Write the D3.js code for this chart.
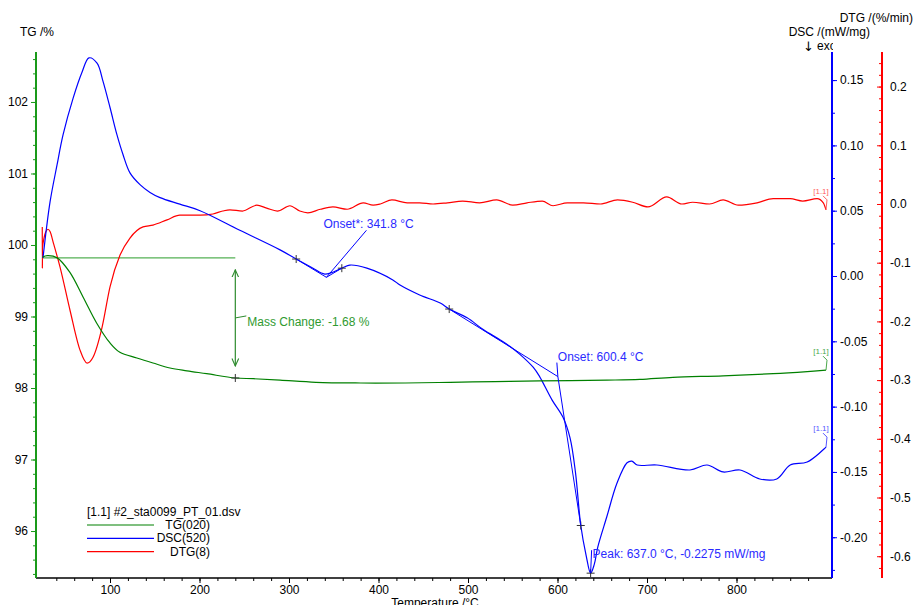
<!DOCTYPE html>
<html>
<head>
<meta charset="utf-8">
<script src="https://cdn.jsdelivr.net/npm/d3@7"></script>
<style>
  body { margin: 0; background: #fff; }
  svg { font-family: 'Liberation Sans', Arial, sans-serif; }
</style>
</head>
<body>
<svg id="chart" width="917" height="605"></svg>
<script>
// temperature (°C), TG (%)
const tgData = [
  [24.5, 99.83], [30, 99.85], [41, 99.82], [55, 99.62], [70, 99.27], [85, 98.91],
  [100, 98.63], [111, 98.5], [130, 98.42], [148, 98.35], [167, 98.28], [186, 98.24],
  [208, 98.2], [240, 98.14], [260, 98.13], [290, 98.11], [330, 98.08], [380, 98.07],
  [430, 98.07], [480, 98.08], [530, 98.09], [580, 98.1], [655, 98.11], [692, 98.12],
  [729, 98.15], [785, 98.17], [841, 98.2], [879, 98.23], [900, 98.25],
];

// temperature (°C), DSC (mW/mg)
const dscData = [
  [25.1, 0.0138], [33, 0.0567], [40.8, 0.085], [47.5, 0.108], [58.7, 0.136], [68.7, 0.156],
  [76.5, 0.167], [85.5, 0.163], [92.2, 0.149], [100, 0.129], [107.8, 0.108], [114.5, 0.093],
  [122.3, 0.079], [133.5, 0.07], [144.7, 0.064], [155.9, 0.06], [178, 0.055], [200.6, 0.05],
  [245, 0.035], [290, 0.02], [308, 0.013], [326.8, 0.006], [340, 0.0015], [359, 0.006],
  [368, 0.0084], [387, 0.006], [416, -0.003], [424, -0.0069], [446, -0.0145], [469, -0.0207],
  [479, -0.0253], [499, -0.032], [517, -0.041], [536, -0.049], [547, -0.054], [558, -0.06],
  [573, -0.07], [580, -0.077], [594, -0.095], [606, -0.108], [614, -0.124], [620, -0.15],
  [626, -0.191], [632, -0.214], [637, -0.2275], [641, -0.221], [645, -0.2075], [655, -0.1845],
  [666.5, -0.1585], [677.7, -0.143], [683, -0.1417], [689, -0.1447], [711, -0.1447],
  [748, -0.1485], [767, -0.1447], [785, -0.15], [804, -0.1485], [826, -0.1554],
  [845, -0.1554], [860, -0.1447], [879, -0.1424], [900, -0.131],
];

// temperature (°C), DTG (%/min)
const dtgData = [
  [24.3, -0.039], [24.4, -0.109], [24.6, -0.075], [26, -0.06], [28, -0.048], [30.7, -0.043],
  [33, -0.047], [37, -0.068], [44.1, -0.107], [55.3, -0.181], [66.5, -0.249], [74.3, -0.271],
  [81, -0.261], [91.1, -0.21], [100, -0.141], [111.2, -0.087], [122.3, -0.058], [136.9, -0.039],
  [148, -0.036], [163.7, -0.027], [178, -0.019], [201, -0.019], [215, -0.017], [226, -0.012],
  [234, -0.01], [248, -0.012], [264, -0.002], [275, -0.007], [287, -0.012], [301, -0.003],
  [312, -0.012], [321, -0.015], [335, -0.009], [349, -0.005], [365, -0.009], [383, 0.002],
  [394, -0.002], [402, 0], [415, 0.007], [432, 0.002], [446, 0.002], [461, 0], [477, 0.002],
  [494, 0.005], [513, 0.002], [532, 0.007], [550, -0.002], [566, 0.002], [583, 0.005],
  [595, -0.003], [611, 0.002], [629, 0.002], [648, 0], [667, 0.007], [684, 0.003],
  [701, -0.005], [722, 0.012], [739, 0], [751, 0.003], [770, 0], [785, 0.007], [802, -0.002],
  [823, 0.002], [841, 0.009], [860, 0.009], [874, 0.005], [890, 0.009], [897, 0.002], [900, -0.01],
];

const xTicks = [100, 200, 300, 400, 500, 600, 700, 800];
const tgTicks = [96, 97, 98, 99, 100, 101, 102];
const dscTicks = [-0.2, -0.15, -0.1, -0.05, 0, 0.05, 0.1, 0.15];
const dtgTicks = [-0.6, -0.5, -0.4, -0.3, -0.2, -0.1, 0, 0.1, 0.2];

// evaluation results
const massStart = [24.5, 99.82];
const massEnd = [240, 98.14];
const massLabel = 'Mass Change: -1.68 %';
const dscMarks = [[308, 0.013], [359, 0.006], [479, -0.0253], [626, -0.191], [637, -0.2275]];
const onsetStar = [341.8, -0.001];
const onset = [600.4, -0.077];
const peak = [637.0, -0.2275];

const legendItems = [
  { name: 'TG(020)', color: '#008000' },
  { name: 'DSC(520)', color: '#0000ff' },
  { name: 'DTG(8)', color: '#ff0000' },
];

const SVG = d3.select('#chart');

const X = d3.scaleLinear().domain([17.3, 906.7]).range([36, 832]);
const Y_TG = d3.scaleLinear().domain([95.343, 102.699]).range([578, 52]);
const Y_DSC = d3.scaleLinear().domain([-0.2312, 0.1715]).range([578, 52]);
const Y_DTG = d3.scaleLinear().domain([-0.6371, 0.2589]).range([578, 52]);

const styleAxis = (g, color) => {
  g.select('.domain').remove();
  g.selectAll('line').attr('stroke', color);
  g.selectAll('text').attr('fill', '#000').style('font-size', '12px');
};

// x axis
SVG.append('g')
  .attr('transform', 'translate(0,578)')
  .call(d3.axisBottom(X).tickValues(d3.range(40, 900, 20)).tickSize(3).tickFormat(''))
  .call((g) => styleAxis(g, '#000'));
SVG.append('g')
  .attr('transform', 'translate(0,578)')
  .call(d3.axisBottom(X).tickValues(xTicks).tickSize(5).tickPadding(2))
  .call((g) => styleAxis(g, '#000'));
SVG.append('line')
  .attr('x1', 36).attr('x2', 832).attr('y1', 578).attr('y2', 578)
  .attr('stroke', '#000').attr('stroke-width', 1.5);

// TG axis
SVG.append('g')
  .attr('transform', 'translate(36,0)')
  .call(d3.axisLeft(Y_TG).tickValues(d3.range(95.4, 102.7, 0.2)).tickSize(3).tickFormat(''))
  .call((g) => styleAxis(g, '#1a9a1a'));
SVG.append('g')
  .attr('transform', 'translate(36,0)')
  .call(d3.axisLeft(Y_TG).tickValues(tgTicks).tickSize(5).tickPadding(3).tickFormat(d3.format('d')))
  .call((g) => styleAxis(g, '#1a9a1a'));
SVG.append('line')
  .attr('x1', 36).attr('x2', 36).attr('y1', 52).attr('y2', 578)
  .attr('stroke', '#1a9a1a').attr('stroke-width', 2);

// DSC axis
SVG.append('g')
  .attr('transform', 'translate(832,0)')
  .call(d3.axisRight(Y_DSC).tickValues(d3.range(-0.225, 0.17, 0.025)).tickSize(3).tickFormat(''))
  .call((g) => styleAxis(g, '#0000ff'));
SVG.append('g')
  .attr('transform', 'translate(832,0)')
  .call(d3.axisRight(Y_DSC).tickValues(dscTicks).tickSize(5).tickPadding(3).tickFormat((d) => d.toFixed(2)))
  .call((g) => styleAxis(g, '#0000ff'));

// DTG axis
SVG.append('g')
  .attr('transform', 'translate(882,0)')
  .call(d3.axisLeft(Y_DTG).tickValues(d3.range(-0.62, 0.26, 0.02)).tickSize(3).tickFormat(''))
  .call((g) => styleAxis(g, '#ff0000'));
SVG.append('g')
  .attr('transform', 'translate(882,0)')
  .call(d3.axisRight(Y_DTG).tickValues(dtgTicks).tickSize(-5).tickPadding(8).tickFormat((d) => d.toFixed(1)))
  .call((g) => styleAxis(g, '#ff0000'));
SVG.append('line')
  .attr('x1', 882).attr('x2', 882).attr('y1', 52).attr('y2', 578)
  .attr('stroke', '#ff0000').attr('stroke-width', 2);

// axis titles
const title = (txt, x, y, anchor) =>
  SVG.append('text').text(txt).attr('x', x).attr('y', y)
    .style('text-anchor', anchor).style('font-size', '12px').attr('fill', '#000');
title('TG /%', 20, 36, 'start');
title('DTG /(%/min)', 913, 22, 'end');
title('DSC /(mW/mg)', 870, 36, 'end');
title('\u2193', 803, 51, 'start').style('font-family', "'DejaVu Sans', sans-serif").style('font-size', '13px');
title('exo', 817, 50, 'start');
title('Temperature /\u00b0C', 435, 607, 'middle');

// blue axis drawn after the titles so it covers the end of "exo"
SVG.append('line')
  .attr('x1', 832).attr('x2', 832).attr('y1', 52).attr('y2', 578)
  .attr('stroke', '#0000ff').attr('stroke-width', 2);
SVG.append('rect')
  .attr('x', 833).attr('y', 38).attr('width', 6).attr('height', 13)
  .attr('fill', '#fff');

// curves
const line = (yScale, curve) => d3.line()
  .x((d) => X(d[0]))
  .y((d) => yScale(d[1]))
  .curve(curve);

// mass change reference line
SVG.append('line')
  .attr('x1', X(massStart[0])).attr('x2', X(massEnd[0]))
  .attr('y1', Y_TG(massStart[1])).attr('y2', Y_TG(massStart[1]))
  .attr('stroke', '#55b055').attr('stroke-width', 1.3);

SVG.append('path').datum(dtgData).attr('d', line(Y_DTG, d3.curveMonotoneX))
  .attr('fill', 'none').attr('stroke', '#ff0000').attr('stroke-width', 1.2);
SVG.append('path').datum(dscData).attr('d', line(Y_DSC, d3.curveCatmullRom.alpha(0.5)))
  .attr('fill', 'none').attr('stroke', '#0000ff').attr('stroke-width', 1.2);
SVG.append('path').datum(tgData).attr('d', line(Y_TG, d3.curveCatmullRom.alpha(0.5)))
  .attr('fill', 'none').attr('stroke', '#008000').attr('stroke-width', 1.2);

// end labels
const endLabel = (data, yScale, color) => {
  const [T, v] = data[data.length - 1];
  const px = X(T);
  const py = yScale(v);
  SVG.append('path')
    .attr('d', `M${px},${py}L${px + 1},${py - 10}L${px - 3},${py - 14}`)
    .attr('fill', 'none').attr('stroke', color).attr('stroke-width', 1);
  SVG.append('text').text('[1.1]')
    .attr('x', px - 5).attr('y', py - 16)
    .style('text-anchor', 'middle').style('font-size', '8px').attr('fill', color);
};
endLabel(tgData, Y_TG, '#4aa84a');
endLabel(dscData, Y_DSC, '#5555ff');
endLabel(dtgData, Y_DTG, '#ff6060');

// mass change arrow
const ARROW_X = X(massEnd[0]);
const defs = SVG.append('defs');
defs.append('marker')
  .attr('id', 'arr').attr('viewBox', '0 0 10 10').attr('refX', 9).attr('refY', 5)
  .attr('markerWidth', 7).attr('markerHeight', 7).attr('orient', 'auto-start-reverse')
  .append('path').attr('d', 'M0,1L9,5L0,9').attr('fill', 'none').attr('stroke', '#2e8b2e').attr('stroke-width', 1.3);
SVG.append('line')
  .attr('x1', ARROW_X).attr('x2', ARROW_X)
  .attr('y1', Y_TG(massStart[1]) + 12).attr('y2', Y_TG(massEnd[1]) - 12)
  .attr('stroke', '#2e8b2e').attr('stroke-width', 1.2)
  .attr('marker-start', 'url(#arr)').attr('marker-end', 'url(#arr)');
const MID_Y = (Y_TG(massStart[1]) + Y_TG(massEnd[1])) / 2;
SVG.append('path')
  .attr('d', `M${ARROW_X},${MID_Y}L${ARROW_X + 11},${MID_Y - 2}`)
  .attr('stroke', '#2e8b2e').attr('fill', 'none');
SVG.append('text').text(massLabel)
  .attr('x', ARROW_X + 12).attr('y', MID_Y + 8)
  .style('font-size', '12px').attr('fill', '#2f9a2f');

// "+" markers
const plus = (px, py) => SVG.append('path')
  .attr('d', `M${px - 4},${py}H${px + 4}M${px},${py - 4}V${py + 4}`)
  .attr('stroke', '#333').attr('stroke-width', 1);
plus(X(massEnd[0]), Y_TG(massEnd[1]));
dscMarks.forEach((d) => plus(X(d[0]), Y_DSC(d[1])));

// onset* tangents
const BLUE_TXT = '#2a2aff';
const p = (d) => [X(d[0]), Y_DSC(d[1])];
const [osX, osY] = p(onsetStar);
SVG.append('path')
  .attr('d', `M${p(dscMarks[0])}L${osX},${osY}L${p(dscMarks[1])}`)
  .attr('fill', 'none').attr('stroke', '#0000ff').attr('stroke-width', 1);
SVG.append('line')
  .attr('x1', osX).attr('y1', osY).attr('x2', osX + 40).attr('y2', osY - 47)
  .attr('stroke', '#0000ff').attr('stroke-width', 1);
SVG.append('text').text('Onset*: 341.8 \u00b0C')
  .attr('x', osX - 3).attr('y', osY - 49)
  .style('font-size', '12px').attr('fill', BLUE_TXT);

// onset tangents
const [onX, onY] = p(onset);
SVG.append('path')
  .attr('d', `M${p(dscMarks[2])}L${onX},${onY}L${p(dscMarks[3])}`)
  .attr('fill', 'none').attr('stroke', '#0000ff').attr('stroke-width', 1);
SVG.append('line')
  .attr('x1', onX).attr('y1', onY).attr('x2', onX - 1).attr('y2', onY - 14)
  .attr('stroke', '#0000ff').attr('stroke-width', 1);
SVG.append('text').text('Onset: 600.4 \u00b0C')
  .attr('x', onX).attr('y', onY - 16)
  .style('font-size', '12px').attr('fill', BLUE_TXT);

// peak
const [pkX, pkY] = p(peak);
SVG.append('line')
  .attr('x1', pkX).attr('y1', pkY).attr('x2', pkX + 1).attr('y2', pkY - 23)
  .attr('stroke', '#0000ff').attr('stroke-width', 1);
SVG.append('text').text('Peak: 637.0 \u00b0C, -0.2275 mW/mg')
  .attr('x', pkX + 2).attr('y', pkY - 15)
  .style('font-size', '12px').attr('fill', BLUE_TXT);

// legend
const LEG = SVG.append('g').attr('transform', 'translate(87,516)');
LEG.append('text').text('[1.1] #2_sta0099_PT_01.dsv')
  .attr('x', 0).attr('y', 0).style('font-size', '12px').attr('fill', '#000');
legendItems.forEach((item, i) => {
  LEG.append('line')
    .attr('x1', 0).attr('x2', 67).attr('y1', 9 + i * 13.3).attr('y2', 9 + i * 13.3)
    .attr('stroke', item.color).attr('stroke-width', 1.2);
  LEG.append('text').text(item.name)
    .attr('x', 123).attr('y', 13 + i * 13.3)
    .style('text-anchor', 'end').style('font-size', '12px').attr('fill', '#000');
});
</script>
</body>
</html>
